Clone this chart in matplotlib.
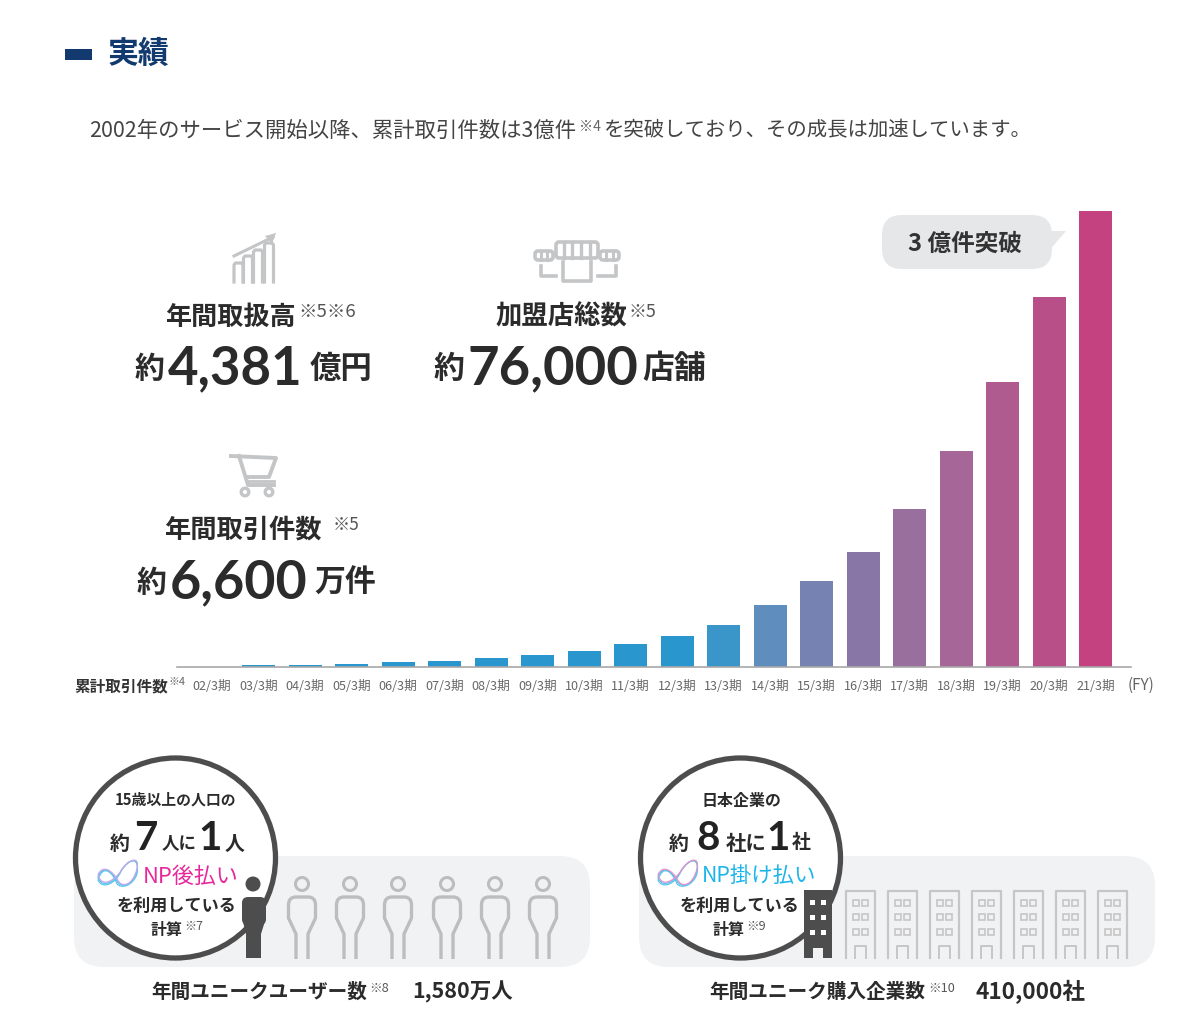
import matplotlib
matplotlib.use("Agg")
import matplotlib.pyplot as plt
from matplotlib.patches import FancyBboxPatch, Circle, Rectangle, Polygon, PathPatch
from matplotlib.path import Path

JP = ['Noto Sans CJK JP', 'DejaVu Sans']
NUM = ['Lato', 'Noto Sans CJK JP', 'DejaVu Sans']
plt.rcParams['font.family'] = JP

# ---------- data ----------
periods = ['02/3期', '03/3期', '04/3期', '05/3期', '06/3期', '07/3期', '08/3期',
           '09/3期', '10/3期', '11/3期', '12/3期', '13/3期', '14/3期', '15/3期',
           '16/3期', '17/3期', '18/3期', '19/3期', '20/3期', '21/3期']
cumulative_oku = [0.0, 0.01, 0.01, 0.02, 0.033, 0.04, 0.06, 0.08, 0.105, 0.15,
                  0.205, 0.275, 0.41, 0.565, 0.755, 1.04, 1.42, 1.875, 2.435, 3.0]
bar_colors = ['#2996cd'] * 11 + ['#3a95c9', '#5f8dbd', '#7582b2', '#8877a6', '#986f9d',
                                 '#a66697', '#b05b90', '#b94f89', '#c44280']

W, H = 1200, 1031
INK = '#2b2b2b'
fig = plt.figure(figsize=(W / 100, H / 100), dpi=100, facecolor='white')

# pixel-space overlay for page furniture
bg = fig.add_axes([0, 0, 1, 1], zorder=0)
bg.set_xlim(0, W); bg.set_ylim(H, 0); bg.axis('off')
renderer = fig.canvas.get_renderer()


def fit(x0, x1, y, s, color=INK, weight='medium', family=JP, z=6):
    """Text whose left and right edges land on x0 and x1 (pixels)."""
    t = bg.text(x0, y + 2, s, color=color, fontweight=weight, family=family,
                fontsize=14, ha='left', va='center', zorder=z)
    w = t.get_window_extent(renderer).width
    t.set_fontsize(14 * (x1 - x0) / w)
    return t


def big(xc, y, s):
    """Large single figure inside the circles."""
    bg.text(xc, y, s, color='#222222', fontweight='bold', family=NUM, fontsize=29,
            ha='center', va='center', zorder=6)


# ---------- bar chart ----------
BASE, TOP, X0, STEP = 667, 211, 212, 46.5
ax = fig.add_axes([177 / W, 1 - BASE / H, (1131 - 177) / W, (BASE - 200) / H], zorder=1)
ax.patch.set_alpha(0)
xs = list(range(len(periods)))
ax.bar(xs, cumulative_oku, width=33 / STEP, color=bar_colors, linewidth=0)
ax.set_xlim((177 - X0) / STEP, (1131 - X0) / STEP)
ax.set_ylim(0, 3.0 * (BASE - 200) / (BASE - TOP))
ax.set_yticks([])
ax.set_xticks(xs)
ax.set_xticklabels(periods, fontsize=9.1, color='#666666')
ax.tick_params(axis='x', length=0, pad=9)
for k in ('top', 'left', 'right'):
    ax.spines[k].set_visible(False)
ax.spines['bottom'].set_color('#a8a8a8')
ax.spines['bottom'].set_linewidth(1.2)

# ---------- header ----------
bg.add_patch(Rectangle((65, 49), 27, 11, color='#123a6e', lw=0))
fit(108, 170, 52, '実績', color='#123a6e', weight='bold')
fit(89, 577, 129, '2002年のサービス開始以降、累計取引件数は3億件', color='#444444', weight='regular')
fit(579, 601, 125, '※4', color='#666666', weight='regular')
fit(603, 1033, 129, 'を突破しており、その成長は加速しています。', color='#444444', weight='regular')

# ---------- key figures ----------
fit(165, 296, 315, '年間取扱高', weight='bold')
fit(298, 356, 310, '※5※6', weight='regular', color='#555555')
fit(135, 165, 367, '約', weight='bold')
fit(168, 303, 367, '4,381', family=NUM, weight='bold')
fit(310, 373, 367, '億円', weight='bold')

fit(496, 628, 315, '加盟店総数', weight='bold')
fit(629, 657, 310, '※5', weight='regular', color='#555555')
fit(434, 465, 367, '約', weight='bold')
fit(468, 640, 367, '76,000', family=NUM, weight='bold')
fit(642, 706, 367, '店舗', weight='bold')

fit(164, 322, 528, '年間取引件数', weight='bold')
fit(333, 360, 523, '※5', weight='regular', color='#555555')
fit(137, 167, 581, '約', weight='bold')
fit(170, 309, 581, '6,600', family=NUM, weight='bold')
fit(314, 376, 581, '万件', weight='bold')

fit(74, 168, 684, '累計取引件数', weight='bold', color='#333333')
fit(169, 186, 680, '※4', weight='regular', color='#666666')
fit(1128, 1155, 683, '(FY)', weight='regular', color='#666666')

# callout
bg.add_patch(FancyBboxPatch((882, 215), 170, 54, boxstyle='round,pad=0,rounding_size=20',
                            fc='#e6e7e9', ec='none', zorder=2))
bg.add_patch(Polygon([(1046, 231), (1066, 231), (1048, 252)], fc='#e6e7e9', ec='none', zorder=2))
fit(908, 1022, 242, '3 億件突破', weight='bold', color='#333333')

ICON = '#c4c5c7'
# rising-bars icon
for x, top in [(238.5, 263), (248, 256), (258, 250), (269, 243)]:
    bg.plot([x - 4.5, x - 4.5, x - 3, x + 3, x + 4.5, x + 4.5], [282, top + 2, top, top, top + 2, 282],
            color=ICON, lw=2.3, solid_joinstyle='round')
bg.plot([234, 273], [256, 237], color=ICON, lw=2.2)
bg.add_patch(Polygon([(265, 236), (276, 233), (272, 244)], fc=ICON, ec='none'))
# shop icon
for x0, x1, y0, y1 in [(556, 598, 242, 258), (535, 553, 251, 260), (600, 619, 251, 260)]:
    bg.add_patch(FancyBboxPatch((x0, y0), x1 - x0, y1 - y0, boxstyle='round,pad=0,rounding_size=3',
                                fc='none', ec=ICON, lw=2.6))
for x in (564, 572, 581, 590):
    bg.plot([x, x], [242, 258], color=ICON, lw=2.4)
for x in (541, 547, 606, 613):
    bg.plot([x, x], [251, 260], color=ICON, lw=2.2)
bg.plot([541, 541, 556], [266, 276, 276], color=ICON, lw=2.6)
bg.plot([563, 563, 591, 591], [262, 281, 281, 262], color=ICON, lw=2.6)
bg.plot([598, 616, 616], [276, 276, 266], color=ICON, lw=2.6)
# cart icon
bg.plot([231, 276, 269, 246], [456, 458, 477, 477], color=ICON, lw=2.8, solid_joinstyle='round')
bg.plot([239, 248, 274], [456, 485, 485], color=ICON, lw=2.8, solid_joinstyle='round')
bg.plot([247, 274], [481, 481], color=ICON, lw=2.0)
bg.add_patch(Circle((245, 492), 3.8, fc='white', ec=ICON, lw=2.4, zorder=3))
bg.add_patch(Circle((269, 492), 3.8, fc='white', ec=ICON, lw=2.4, zorder=3))

# ---------- lower panels ----------
PANEL = '#f1f2f4'
DARK = '#4d4d4d'
OUT = '#bdbdbd'
for px in (74, 639):
    bg.add_patch(FancyBboxPatch((px, 856), 516, 111, boxstyle='round,pad=0,rounding_size=30',
                                fc=PANEL, ec='none', zorder=1))


def person_verts(cx):
    top = 897
    return [(cx - 6, 959), (cx - 6, 934), (cx - 13.5, 918), (cx - 13.5, 905), (cx - 13.5, top),
            (cx - 6, top), (cx + 6, top), (cx + 13.5, top), (cx + 13.5, 905), (cx + 13.5, 918),
            (cx + 6, 934), (cx + 6, 959)]


PERSON_CODES = [Path.MOVETO, Path.LINETO, Path.LINETO, Path.LINETO, Path.CURVE3, Path.CURVE3,
                Path.LINETO, Path.CURVE3, Path.CURVE3, Path.LINETO, Path.LINETO, Path.LINETO]

for cx in (302, 350, 398, 447, 495, 543):
    bg.add_patch(Circle((cx, 884), 6.5, fc='none', ec=OUT, lw=2.2, zorder=2))
    bg.add_patch(PathPatch(Path(person_verts(cx), PERSON_CODES), fc='none', ec=OUT, lw=2.4, zorder=2))

for bx in (846, 888, 930, 972, 1014, 1056, 1098):
    bg.plot([bx, bx, bx + 29, bx + 29], [958, 891, 891, 958], color='#c6c6c6', lw=1.6, zorder=2)
    for wy in (903, 917, 932):
        for wx in (bx + 7, bx + 16):
            bg.add_patch(Rectangle((wx, wy - 3), 5.5, 6, fc='none', ec='#c6c6c6', lw=1.2, zorder=2))
    bg.plot([bx + 9, bx + 9, bx + 20, bx + 20], [958, 946, 946, 958], color='#c6c6c6', lw=1.4, zorder=2)

for cx in (175.5, 740.5):
    bg.add_patch(Circle((cx, 858), 100, fc='white', ec=DARK, lw=3.8, zorder=3))

# dark person
bg.add_patch(Circle((253, 884), 7.5, fc=DARK, ec='none', zorder=4))
bg.add_patch(FancyBboxPatch((242, 897), 24, 28, boxstyle='round,pad=0,rounding_size=6', fc=DARK, ec='none', zorder=4))
bg.add_patch(Polygon([(242, 918), (266, 918), (261, 934), (261, 958), (246, 958), (246, 934)],
                     fc=DARK, ec='none', zorder=4))
# dark building
bg.add_patch(Rectangle((804, 890), 28, 68, fc=DARK, ec='none', zorder=4))
for wy in (902, 917, 932):
    for wx in (812, 823):
        bg.add_patch(Rectangle((wx - 2.5, wy - 2.5), 5.5, 5.5, fc='white', ec='none', zorder=5))
bg.add_patch(Rectangle((813, 948), 10, 10, fc=PANEL, ec='none', zorder=5))


def logo(x, y, s, c1, c2):
    """Small looped ribbon mark; x, y is its centre, s the half width."""
    for dy, col in ((0, c1), (0.14, c1), (-0.12, c2)):
        verts = [(x - s, y + (0.1 + dy) * s), (x - 0.75 * s, y - 0.55 * s), (x - 0.3 * s, y - 0.2 * s),
                 (x - 0.05 * s, y + (0.3 + dy) * s), (x + 0.15 * s, y + 0.7 * s), (x + 0.75 * s, y + 0.55 * s),
                 (x + s * 0.95, y + (dy - 0.2) * s), (x + s * 1.1, y - 0.95 * s), (x + 0.55 * s, y - 0.85 * s),
                 (x + 0.15 * s, y - 0.2 * s), (x - 0.1 * s, y + (0.3 + dy) * s), (x - 0.8 * s, y + 0.75 * s),
                 (x - s, y + (0.1 + dy) * s)]
        codes = [Path.MOVETO] + [Path.CURVE4] * 12
        bg.add_patch(PathPatch(Path(verts, codes), fc='none', ec=col, lw=0.9, zorder=6))


# left circle text
fit(115, 237, 798, '15歳以上の人口の', weight='bold')
fit(110, 130, 841, '約', weight='bold')
big(146, 838, '7')
fit(162, 197, 841, '人に', weight='bold')
big(210, 838, '1')
fit(225, 245, 841, '人', weight='bold')
logo(118, 875, 20, '#58c6ee', '#c9a6e6')
fit(143, 239, 875, 'NP後払い', color='#e6289b', weight='regular')
fit(117, 237, 904, 'を利用している', weight='bold')
fit(151, 183, 928, '計算', weight='bold')
fit(184, 203, 925, '※7', weight='regular', color='#555555')
fit(151, 367, 990, '年間ユニークユーザー数', weight='bold')
fit(369, 389, 987, '※8', weight='regular', color='#555555')
fit(412, 513, 990, '1,580万人', weight='bold')

# right circle text
fit(701, 781, 799, '日本企業の', weight='bold')
fit(669, 689, 841, '約', weight='bold')
big(708.5, 838, '8')
fit(726, 767, 841, '社に', weight='bold')
big(778, 838, '1')
fit(792, 811, 841, '社', weight='bold')
logo(678, 875, 20, '#58c6ee', '#ea8fc8')
fit(702, 817, 874, 'NP掛け払い', color='#1cb5ea', weight='regular')
fit(680, 800, 904, 'を利用している', weight='bold')
fit(713, 745, 928, '計算', weight='bold')
fit(746, 766, 925, '※9', weight='regular', color='#555555')
fit(709, 926, 990, '年間ユニーク購入企業数', weight='bold')
fit(928, 955, 987, '※10', weight='regular', color='#555555')
fit(975, 1085, 990, '410,000社', weight='bold')

fig.savefig('out.png', dpi=100, facecolor='white')
